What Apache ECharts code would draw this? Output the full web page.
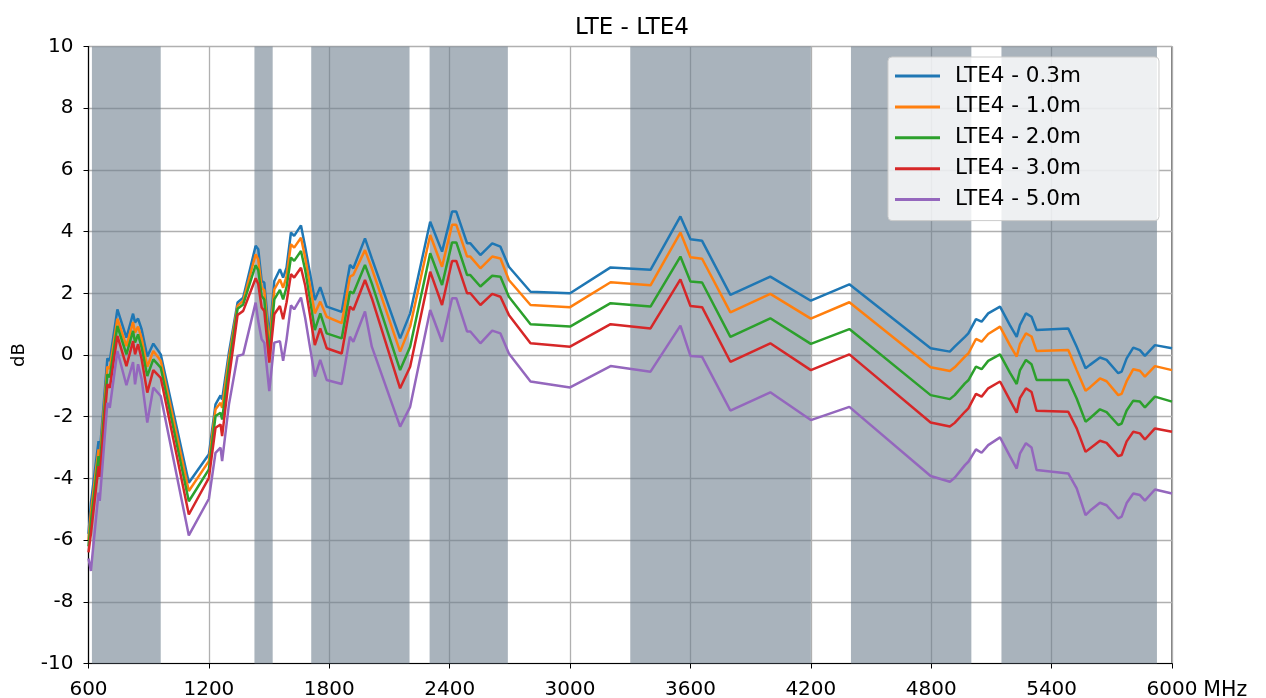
<!DOCTYPE html>
<html>
<head>
<meta charset="utf-8">
<title>LTE - LTE4</title>
<script src="https://cdn.jsdelivr.net/npm/echarts@6/dist/echarts.min.js"></script>
<style>
  html, body { margin: 0; padding: 0; background: #fff; }
  #chart { width: 1266px; height: 698px; }
</style>
</head>
<body>
<div id="chart"></div>
<script>
// frequency points (MHz), shared by all five traces
const freqs = [600, 612, 650, 656, 694, 706, 744, 789, 822, 832, 847, 865, 893, 923, 960,
  1100, 1200, 1233, 1258, 1266, 1300, 1343, 1371, 1433, 1446, 1463, 1476, 1501, 1526, 1554,
  1570, 1587, 1609, 1625, 1659, 1680, 1728, 1755, 1787, 1862, 1903, 1920, 1978, 2012, 2153,
  2203, 2303, 2362, 2412, 2433, 2487, 2503, 2553, 2612, 2653, 2695, 2803, 3000, 3202, 3401,
  3550, 3600, 3658, 3799, 3998, 4200, 4392, 4797, 4893, 4917, 4968, 4985, 5023, 5051, 5084,
  5143, 5192, 5226, 5242, 5272, 5300, 5325, 5483, 5525, 5569, 5591, 5641, 5674, 5732, 5749,
  5774, 5807, 5840, 5865, 5915, 6000];

const lte03 = [-5.8, -4.8, -2.79, -3.17, -0.11, -0.19, 1.48, 0.56, 1.34, 1.05, 1.18, 0.83, -0.05, 0.37, 0.02,
  -4.14, -3.22, -1.6, -1.31, -1.44, 0.08, 1.7, 1.86, 3.54, 3.43, 2.4, 2.35, 0.56, 2.4, 2.78,
  2.51, 2.83, 3.97, 3.86, 4.2, 3.5, 1.78, 2.2, 1.57, 1.4, 2.92, 2.81, 3.78, 3.13, 0.54,
  1.35, 4.32, 3.35, 4.65, 4.65, 3.62, 3.62, 3.24, 3.62, 3.51, 2.86, 2.05, 2.0, 2.84, 2.76,
  4.49, 3.75, 3.7, 1.95, 2.54, 1.76, 2.29, 0.22, 0.11, 0.27, 0.59, 0.7, 1.16, 1.08, 1.35,
  1.57, 0.97, 0.59, 0.97, 1.35, 1.24, 0.81, 0.86, 0.27, -0.43, -0.32, -0.08, -0.16, -0.59, -0.54,
  -0.11, 0.24, 0.16, -0.03, 0.32, 0.22];

const lte10 = [-6.0, -5.1, -3.06, -3.4, -0.38, -0.45, 1.18, 0.29, 1.07, 0.72, 0.92, 0.53, -0.38, 0.13, -0.19,
  -4.41, -3.44, -1.76, -1.55, -1.71, -0.1, 1.6, 1.75, 3.26, 3.1, 2.18, 2.1, 0.29, 2.13, 2.45,
  2.18, 2.55, 3.59, 3.48, 3.8, 3.15, 1.35, 1.73, 1.24, 1.03, 2.54, 2.6, 3.4, 2.81, 0.11,
  0.92, 3.89, 2.86, 4.22, 4.22, 3.19, 3.19, 2.81, 3.19, 3.13, 2.43, 1.62, 1.55, 2.36, 2.26,
  3.97, 3.17, 3.12, 1.38, 1.98, 1.18, 1.71, -0.4, -0.52, -0.4, -0.05, 0.05, 0.52, 0.43, 0.68,
  0.92, 0.32, -0.05, 0.35, 0.7, 0.6, 0.13, 0.16, -0.49, -1.16, -1.05, -0.76, -0.85, -1.3, -1.26,
  -0.85, -0.46, -0.51, -0.7, -0.36, -0.49];

const lte20 = [-6.2, -5.4, -3.28, -3.6, -0.63, -0.72, 0.94, 0.02, 0.78, 0.4, 0.67, 0.24, -0.68, -0.14, -0.41,
  -4.74, -3.71, -1.98, -1.87, -2.09, -0.35, 1.5, 1.64, 2.91, 2.75, 1.91, 1.8, 0.02, 1.8, 2.11,
  1.8, 2.2, 3.16, 3.05, 3.37, 2.75, 0.81, 1.35, 0.7, 0.54, 2.05, 2.0, 2.92, 2.32, -0.49,
  0.27, 3.3, 2.27, 3.65, 3.65, 2.59, 2.59, 2.22, 2.57, 2.54, 1.89, 1.0, 0.92, 1.68, 1.57,
  3.19, 2.38, 2.35, 0.59, 1.19, 0.36, 0.84, -1.3, -1.43, -1.3, -0.92, -0.82, -0.38, -0.46, -0.19,
  0.02, -0.57, -0.94, -0.5, -0.16, -0.3, -0.81, -0.81, -1.41, -2.16, -2.05, -1.76, -1.85, -2.27, -2.22,
  -1.8, -1.48, -1.51, -1.7, -1.35, -1.51];

const lte30 = [-6.4, -5.8, -3.6, -3.95, -0.95, -1.06, 0.62, -0.36, 0.45, 0.02, 0.35, -0.14, -1.22, -0.49, -0.74,
  -5.17, -3.98, -2.36, -2.25, -2.63, -0.75, 1.3, 1.43, 2.49, 2.3, 1.54, 1.43, -0.25, 1.32, 1.59,
  1.16, 1.7, 2.62, 2.51, 2.83, 2.25, 0.32, 0.86, 0.22, 0.05, 1.57, 1.46, 2.43, 1.84, -1.08,
  -0.38, 2.7, 1.62, 3.05, 3.05, 2.0, 2.0, 1.62, 1.98, 1.89, 1.3, 0.38, 0.27, 1.0, 0.86,
  2.45, 1.59, 1.55, -0.22, 0.38, -0.49, 0.02, -2.19, -2.32, -2.2, -1.84, -1.73, -1.26, -1.35, -1.08,
  -0.86, -1.46, -1.87, -1.4, -1.08, -1.2, -1.81, -1.84, -2.38, -3.14, -3.03, -2.78, -2.85, -3.28, -3.24,
  -2.8, -2.49, -2.54, -2.74, -2.38, -2.49];

const lte50 = [-6.6, -7.0, -4.46, -4.73, -1.55, -1.71, 0.13, -0.98, -0.23, -0.95, -0.3, -0.79, -2.19, -1.06, -1.33,
  -5.85, -4.66, -3.17, -3.0, -3.44, -1.6, -0.03, 0.02, 1.7, 1.1, 0.51, 0.4, -1.17, 0.4, 0.45,
  -0.19, 0.5, 1.61, 1.48, 1.86, 1.2, -0.7, -0.16, -0.81, -0.94, 0.59, 0.43, 1.41, 0.27, -2.32,
  -1.68, 1.46, 0.43, 1.84, 1.84, 0.76, 0.76, 0.38, 0.79, 0.7, 0.05, -0.86, -1.05, -0.36, -0.54,
  0.95, -0.03, -0.06, -1.8, -1.21, -2.11, -1.68, -3.92, -4.11, -3.98, -3.57, -3.46, -3.06, -3.17, -2.92,
  -2.67, -3.28, -3.68, -3.2, -2.86, -3.0, -3.73, -3.84, -4.32, -5.19, -5.05, -4.79, -4.87, -5.3, -5.24,
  -4.8, -4.49, -4.54, -4.72, -4.36, -4.49];

const seriesNames = ['LTE4 - 0.3m', 'LTE4 - 1.0m', 'LTE4 - 2.0m', 'LTE4 - 3.0m', 'LTE4 - 5.0m'];
const seriesColors = ['#1f77b4', '#ff7f0e', '#2ca02c', '#d62728', '#9467bd'];

// LTE frequency bands (MHz) shaded in grey
const bandStart = [617, 1427, 1710, 2300, 3300, 4400, 5150];
const bandEnd = [960, 1518, 2200, 2690, 4200, 5000, 5925];

const xTicks = [600, 6000, 600];   // min, max, step
const yTicks = [-10, 10, 2];

const chart = echarts.init(document.getElementById('chart'));
const font = 'DejaVu Sans';

const traces = [lte03, lte10, lte20, lte30, lte50];

const option = {
  animation: false,
  title: {
    text: 'LTE - LTE4',
    left: 627,
    top: 12,
    textAlign: 'center',
    textStyle: { fontFamily: font, fontSize: 23, fontWeight: 'normal', color: '#000' },
  },
  grid: {
    left: 88.5, right: 94, top: 46.5, bottom: 34.5,
    containLabel: false,
    outerBoundsMode: 'none',
    show: true, borderColor: '#000', borderWidth: 1, backgroundColor: '#fff',
  },
  legend: {
    data: seriesNames,
    orient: 'vertical',
    left: 888, top: 57,
    padding: [8, 78, 10, 7],
    itemGap: 8.9,
    itemWidth: 45,
    itemHeight: 3,
    icon: 'rect',
    backgroundColor: 'rgba(255,255,255,0.8)',
    borderColor: '#cccccc',
    borderWidth: 1,
    borderRadius: 4,
    textStyle: { fontFamily: font, fontSize: 21.5, color: '#000', lineHeight: 21.6, padding: [0, 0, 0, 10] },
  },
  xAxis: {
    type: 'value',
    min: xTicks[0], max: xTicks[1], interval: xTicks[2],
    name: 'MHz',
    nameLocation: 'end',
    nameGap: 26,
    nameTextStyle: { fontFamily: font, fontSize: 20.5, color: '#000', verticalAlign: 'top', padding: [17, 0, 0, 0] },
    axisLine: { onZero: false, lineStyle: { color: '#000', width: 1.2 } },
    axisTick: { show: true, length: 5, lineStyle: { color: '#000' } },
    axisLabel: { fontFamily: font, fontSize: 20, color: '#000', margin: 16, formatter: v => String(v) },
    splitLine: { show: true, lineStyle: { color: '#b0b0b0', width: 1.3 } },
  },
  yAxis: {
    type: 'value',
    min: yTicks[0], max: yTicks[1], interval: yTicks[2],
    name: 'dB',
    nameLocation: 'middle',
    nameGap: 60,
    nameTextStyle: { fontFamily: font, fontSize: 18, color: '#000' },
    axisLine: { show: true, onZero: false, lineStyle: { color: '#000', width: 1.2 } },
    axisTick: { show: true, length: 5, lineStyle: { color: '#000' } },
    axisLabel: { fontFamily: font, fontSize: 20, color: '#000', margin: 15 },
    splitLine: { show: true, lineStyle: { color: '#b0b0b0', width: 1.3 } },
  },
  series: [
    {
      name: 'bands',
      type: 'line',
      data: [],
      z: 1,
      silent: true,
      markArea: {
        silent: true,
        itemStyle: { color: 'rgba(112,128,144,0.6)' },
        data: bandStart.map((s, i) => [{ xAxis: s }, { xAxis: bandEnd[i] }]),
      },
    },
    ...traces.map((vals, k) => ({
      name: seriesNames[k],
      type: 'line',
      z: 3 + k,
      showSymbol: false,
      symbol: 'none',
      color: seriesColors[k],
      lineStyle: { color: seriesColors[k], width: 2.5 },
      data: freqs.map((f, i) => [f, vals[i]]),
    })),
  ],
};

chart.setOption(option);
</script>
</body>
</html>
